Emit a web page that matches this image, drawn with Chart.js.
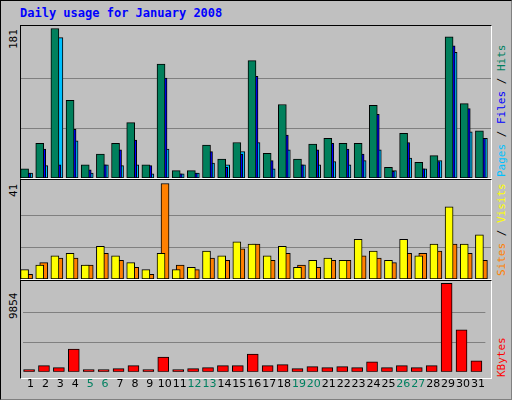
<!DOCTYPE html>
<html><head><meta charset="utf-8">
<script src="https://cdn.jsdelivr.net/npm/chart.js@4"></script>
<style>
body{margin:0;background:#fff}
#frame{position:absolute;left:0;top:0;width:510px;height:398px;background:#c0c0c0;border:1px solid #000;border-right-color:#808080;border-bottom-color:#808080;overflow:hidden}
.panel{position:absolute;left:19px;width:470px;border:1px solid #000;border-right-color:#fff;border-bottom-color:#fff}
.panel canvas,.cv{position:absolute}
.title{position:absolute;left:19px;top:5px;font:bold 12px "DejaVu Sans Mono",monospace;color:#0000ff}
.vl{position:absolute;font:11px "DejaVu Sans Mono",monospace;transform-origin:left top;transform:rotate(-90deg);white-space:nowrap}
</style></head><body>
<div id="frame">
<div class="title">Daily usage for January 2008</div>
<div class="panel" style="top:24px;height:152px"><canvas id="c1"></canvas></div>
<div class="panel" style="top:178px;height:99px"></div>
<div class="panel" style="top:279px;height:97px"></div>
<canvas id="c2" class="cv"></canvas>
<canvas id="c3" class="cv"></canvas>
<div class="vl" style="left:6px;top:48px">181</div>
<div class="vl" style="left:6px;top:196px">41</div>
<div class="vl" style="left:6px;top:318px">9854</div>
<div class="vl" style="left:494px;top:176px"><span style="color:#00c0ff">Pages</span> / <span style="color:#0000ff">Files</span> / <span style="color:#008060">Hits</span></div>
<div class="vl" style="left:494px;top:275px"><span style="color:#ff8000">Sites</span> / <span style="color:#ffff00">Visits</span></div>
<div class="vl" style="left:494px;top:376px"><span style="color:#ff0000">KBytes</span></div>
</div>
<script>
const days = ['1','2','3','4','5','6','7','8','9','10','11','12','13','14','15','16','17','18','19','20','21','22','23','24','25','26','27','28','29','30','31'];
const weekend = ['5','6','12','13','19','20','26','27'];
const hits  = [11,42,181,94,16,29,42,67,16,138,9,9,40,23,43,142,30,89,23,41,48,42,42,88,13,54,19,27,171,90,57];
const files = [6,35,16,59,10,16,34,46,15,121,5,6,32,13,29,123,21,52,16,34,42,35,29,77,8,43,11,20,160,84,48];
const pages = [6,15,170,45,6,16,15,16,5,35,5,6,18,16,32,43,11,34,16,16,20,16,21,34,9,24,11,21,152,56,48];
const visits = [4,6,10,11,6,14,10,7,4,11,4,5,12,10,16,15,10,14,5,8,9,8,17,12,8,17,10,15,31,15,19];
const sites  = [2,7,9,9,6,11,8,5,2,41,6,4,9,8,13,15,8,11,6,5,8,8,10,9,7,11,11,12,15,11,8];
const kbytes = [250,680,470,2520,250,250,360,680,250,1650,250,360,470,680,680,1980,680,790,360,575,470,575,470,1115,470,680,470,680,9854,4675,1220];
const yMax = [181, 41, 9854];

const slot = 470 / 31;
function pts(arr){ return arr.map((v,i)=>({x:i+1,y:v})); }
function xAxis(shiftPx){
  const s = -shiftPx / slot;
  return {type:'linear',display:false,min:0.5+s,max:31.5+s,offset:false};
}
function yAxis(m, top){
  return {min:0,max:top,display:true,border:{display:false},
    ticks:{display:false},grid:{color:'#808080',lineWidth:1,drawTicks:false},
    afterBuildTicks:a=>{a.ticks=[{value:m/3},{value:2*m/3}];}};
}
function ds(arr,color,axis,w){
  return {data:pts(arr),backgroundColor:color,borderColor:'#000',borderWidth:1,
    xAxisID:axis,barThickness:w,grouped:false,borderSkipped:false};
}
const base = {responsive:false,animation:false,events:[],
  layout:{padding:0},plugins:{legend:{display:false},tooltip:{enabled:false}}};

function mk(id,left,top,w,h,datasets,scales){
  const c=document.getElementById(id);
  c.width=w;c.height=h;c.style.left=left+'px';c.style.top=top+'px';
  return new Chart(c,{type:'bar',data:{labels:days,datasets},options:{...base,scales}});
}

mk('c1',0,0,470,152,[
  ds(hits,'#00805c','xh',8),ds(files,'#0000ff','xf',8),ds(pages,'#00c0ff','xp',8)
],{x:{display:false},xh:xAxis(-4),xf:xAxis(-2),xp:xAxis(0),y:yAxis(yMax[0],184)});

mk('c2',20,179,470,99,[
  ds(visits,'#ffff00','xv',8),ds(sites,'#ff8000','xs',8)
],{x:{display:false},xv:xAxis(-4),xs:xAxis(0),y:yAxis(yMax[1],42.5)});

mk('c3',20,280,470,116,[
  ds(kbytes,'#ff0000','xk',11)
],{xk:xAxis(-1.5),
   x:{type:'category',offset:true,border:{display:false},grid:{display:false,drawTicks:false},
      ticks:{padding:6,autoSkip:false,maxRotation:0,font:{family:'DejaVu Sans',size:11},
        color:c=>weekend.includes(days[c.index])?'#008060':'#000'}},
   y:yAxis(yMax[2],10100)});
</script>
</body></html>
